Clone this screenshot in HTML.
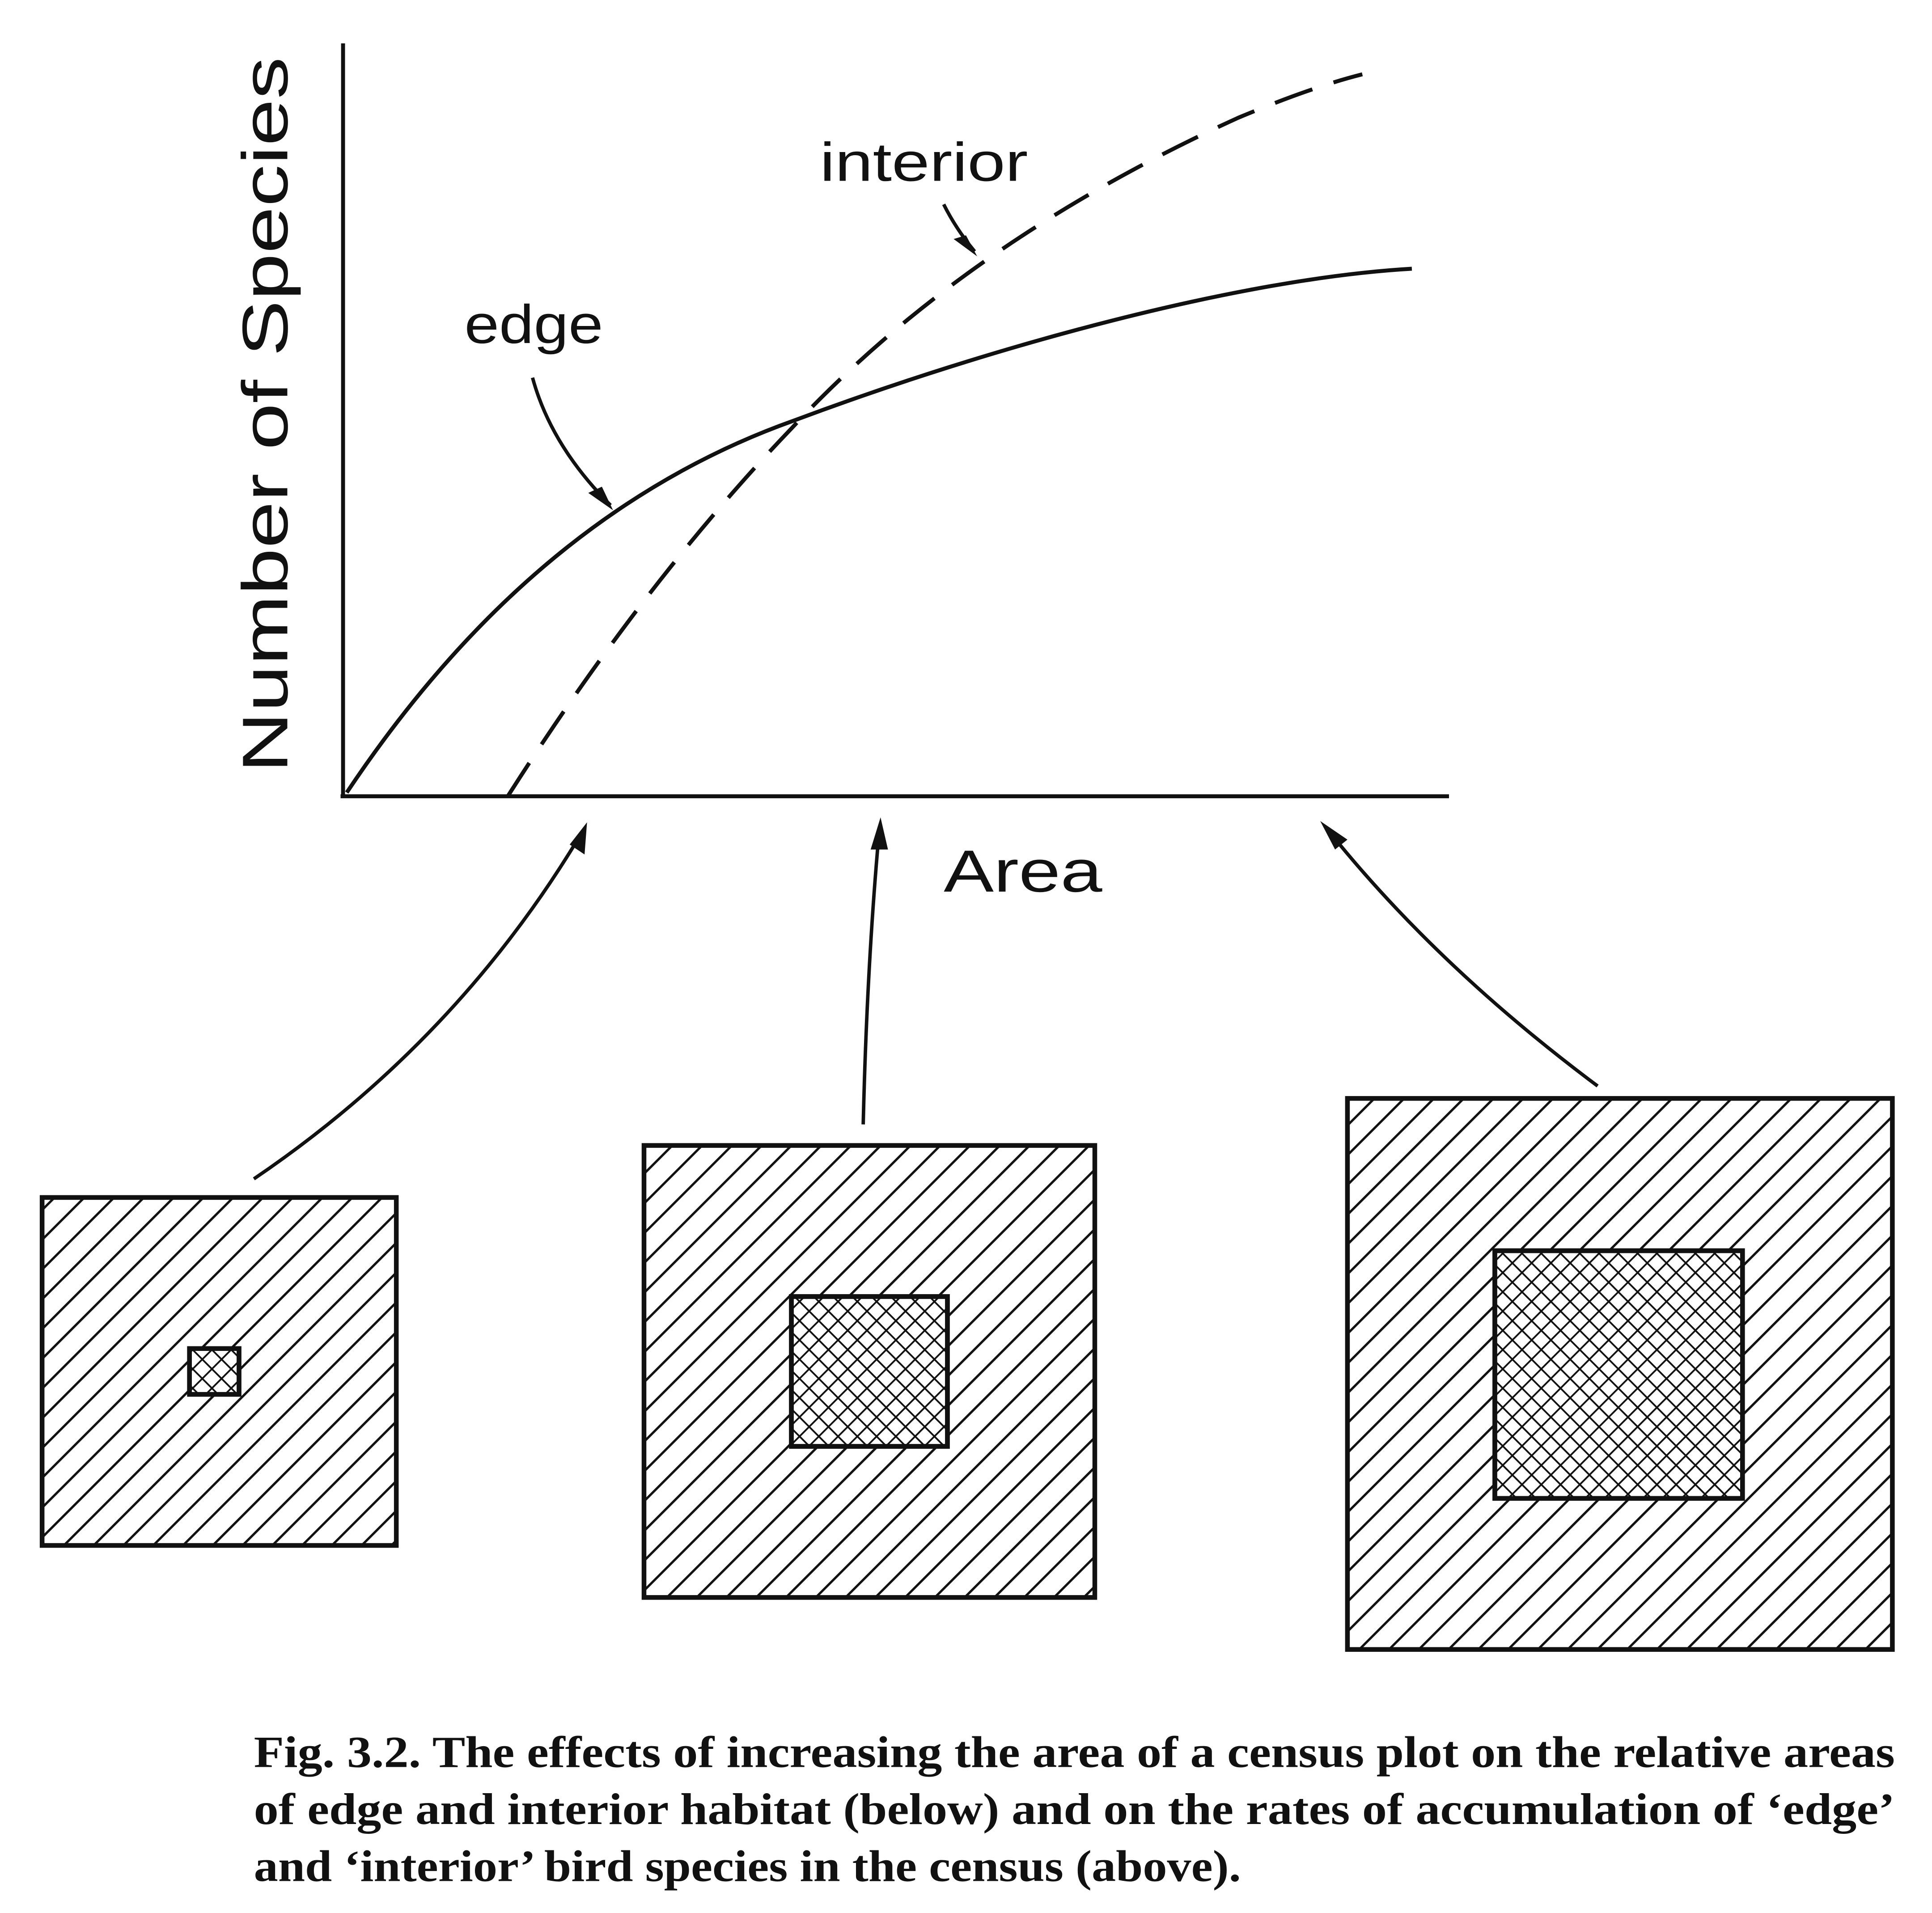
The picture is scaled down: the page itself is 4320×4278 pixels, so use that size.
<!DOCTYPE html>
<html><head><meta charset="utf-8"><style>
html,body{margin:0;padding:0;background:#fff;}
svg{display:block;}
</style></head><body>
<svg width="4320" height="4278" viewBox="0 0 1560 1544.8" xmlns="http://www.w3.org/2000/svg">
<defs>
<pattern id="h" patternUnits="userSpaceOnUse" width="17" height="17" patternTransform="rotate(45)">
<line x1="0" y1="0" x2="0" y2="17" stroke="#111" stroke-width="3.8"/>
</pattern>
<pattern id="x" patternUnits="userSpaceOnUse" width="11" height="11" patternTransform="rotate(45)">
<line x1="0" y1="0" x2="0" y2="11" stroke="#111" stroke-width="2.8"/>
<line x1="0" y1="0" x2="11" y2="0" stroke="#111" stroke-width="2.8"/>
</pattern>
</defs>
<rect width="1560" height="1545" fill="#fff"/>
<g fill="none" stroke="#111" stroke-width="3.2">
<line x1="277" y1="35" x2="277" y2="643"/>
<line x1="275" y1="643" x2="1170" y2="643"/>
<path d="M280,640 C380,490 500,390 640,340 C800,280 1000,225 1140,217"/>
<path d="M410,643 Q520,470 640,345 Q780,195 1000,95 Q1060,70 1100,60" stroke-dasharray="32,18"/>
</g>
<g fill="none" stroke="#111" stroke-width="2.8">
<path d="M430,305 Q445,360 493,408"/>
<path d="M762,165 Q772,185 787,203"/>
<path d="M205,952 Q370,840 470,672"/>
<path d="M697,908 Q700,780 710,670"/>
<path d="M1290,877 Q1160,780 1072,670"/>
</g>
<g fill="#111">
<path d="M495,412 L475,398 L486,393 Z"/>
<path d="M789,207 L770,193 L780,190 Z"/>
<path d="M474,664 L472,690 L460,682 Z"/>
<path d="M711,660 L717,686 L703,686 Z"/>
<path d="M1066,663 L1088,678 L1078,686 Z"/>
</g>
<g font-family="Liberation Sans, sans-serif" fill="#111">
<text x="232" y="335" font-size="52" text-anchor="middle" transform="rotate(-90 232 335)" textLength="578" lengthAdjust="spacingAndGlyphs">Number of Species</text>
<text x="662" y="146" font-size="44" textLength="168" lengthAdjust="spacingAndGlyphs">interior</text>
<text x="375" y="277" font-size="44" textLength="112" lengthAdjust="spacingAndGlyphs">edge</text>
<text x="762" y="720" font-size="48" textLength="128" lengthAdjust="spacingAndGlyphs">Area</text>
</g>
<g stroke="#111" stroke-width="3.8">
<rect x="34" y="967" width="286" height="281" fill="url(#h)"/>
<rect x="153" y="1089" width="40" height="37" fill="#fff"/>
<rect x="153" y="1089" width="40" height="37" fill="url(#x)"/>
<rect x="520" y="925" width="364" height="365" fill="url(#h)"/>
<rect x="639" y="1047" width="126" height="121" fill="#fff"/>
<rect x="639" y="1047" width="126" height="121" fill="url(#x)"/>
<rect x="1088" y="887" width="440" height="445" fill="url(#h)"/>
<rect x="1207" y="1010" width="200" height="200" fill="#fff"/>
<rect x="1207" y="1010" width="200" height="200" fill="url(#x)"/>
</g>
<g font-family="Liberation Serif, serif" font-size="36" font-weight="bold" fill="#111">
<text x="205" y="1427" textLength="1325" lengthAdjust="spacingAndGlyphs">Fig. 3.2. The effects of increasing the area of a census plot on the relative areas</text>
<text x="205" y="1473" textLength="1325" lengthAdjust="spacingAndGlyphs">of edge and interior habitat (below) and on the rates of accumulation of ‘edge’</text>
<text x="205" y="1519" textLength="797" lengthAdjust="spacingAndGlyphs">and ‘interior’ bird species in the census (above).</text>
</g>
</svg>
</body></html>
